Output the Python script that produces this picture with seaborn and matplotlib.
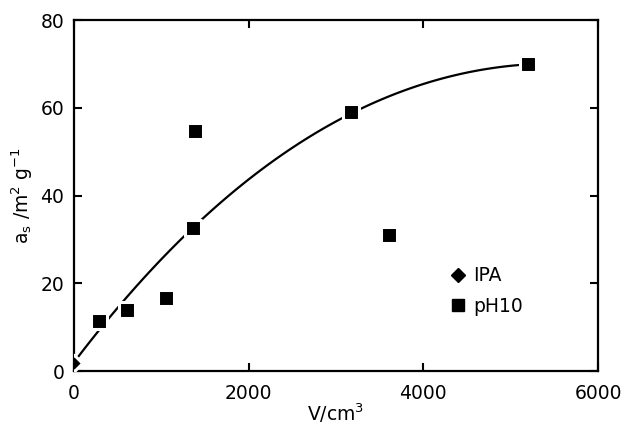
import matplotlib
matplotlib.use("Agg")
import matplotlib.pyplot as plt
import seaborn as sns
import pandas as pd
from matplotlib.lines import Line2D

# Measured specific surface area against volume
ipa_v = [0]
ipa_as = [1.9]

ph10_v = [290, 607, 1054, 1367, 1386, 3169, 3612, 5200]
ph10_as = [11.4, 13.9, 16.7, 32.6, 54.8, 59.0, 31.1, 70.0]

# Points along the hand-drawn trend curve
curve_v = [0, 69, 412, 718, 1214, 1443, 1824, 2321, 2741, 3046, 3313,
           3810, 4191, 4611, 5069, 5200]
curve_as = [2.0, 4.0, 12.0, 19.2, 29.9, 34.4, 41.3, 48.1, 53.6, 57.4, 59.9,
            64.4, 66.7, 68.4, 69.5, 70.0]

x_ticks = [0, 2000, 4000, 6000]
y_ticks = [0, 20, 40, 60, 80]

sns.set_style("ticks")
plt.rcParams["font.family"] = ["DejaVu Sans"]
plt.rcParams["text.color"] = "black"
plt.rcParams["axes.labelcolor"] = "black"

points = pd.DataFrame({
    "V": ipa_v + ph10_v,
    "a_s": ipa_as + ph10_as,
    "series": ["IPA"] * len(ipa_v) + ["pH10"] * len(ph10_v),
})
curve = pd.DataFrame({"V": curve_v, "a_s": curve_as})

fig = plt.figure(figsize=(6.25, 4.32), dpi=100)
ax = fig.add_axes([0.1184, 0.1412, 0.8384, 0.8125])

# Smooth trend line (cubic fit of the curve points)
sns.regplot(data=curve, x="V", y="a_s", ax=ax, order=3, ci=None,
            scatter=False, truncate=True,
            line_kws={"color": "black", "lw": 1.6, "zorder": 2})

markers = {"IPA": "D", "pH10": "s"}
sizes = {"IPA": 70, "pH10": 120}
for name, grp in points.groupby("series"):
    sns.scatterplot(data=grp, x="V", y="a_s", ax=ax, marker=markers[name],
                    s=sizes[name], color="black", edgecolor="white",
                    linewidth=2.2, zorder=3, legend=False)

ax.set_xlim(0, 6000)
ax.set_ylim(0, 80)
ax.set_xticks(x_ticks)
ax.set_yticks(y_ticks)
ax.tick_params(direction="in", length=6, width=1.5, labelsize=13.5,
               top=True, right=True, pad=7, colors="black")
ax.tick_params(axis="x", pad=9)
for side in ["top", "bottom", "left", "right"]:
    ax.spines[side].set_visible(True)
    ax.spines[side].set_linewidth(1.6)
    ax.spines[side].set_color("black")

ax.set_xlabel("V/cm$^3$", fontsize=13.5, labelpad=-1, color="black")
ax.set_ylabel("a$_\\mathrm{s}$ /m$^2$ g$^{-1}$", fontsize=13.5, labelpad=4,
              color="black")

handles = [
    Line2D([], [], ls="none", marker="D", color="black", markersize=7),
    Line2D([], [], ls="none", marker="s", color="black", markersize=8),
]
ax.legend(handles, ["IPA", "pH10"], loc="center left",
          bbox_to_anchor=(0.705, 0.228), frameon=False, fontsize=13.5,
          handlelength=0.8, handletextpad=0.4, labelspacing=0.6,
          borderaxespad=0, labelcolor="black")

fig.savefig("out.png", dpi=100)
